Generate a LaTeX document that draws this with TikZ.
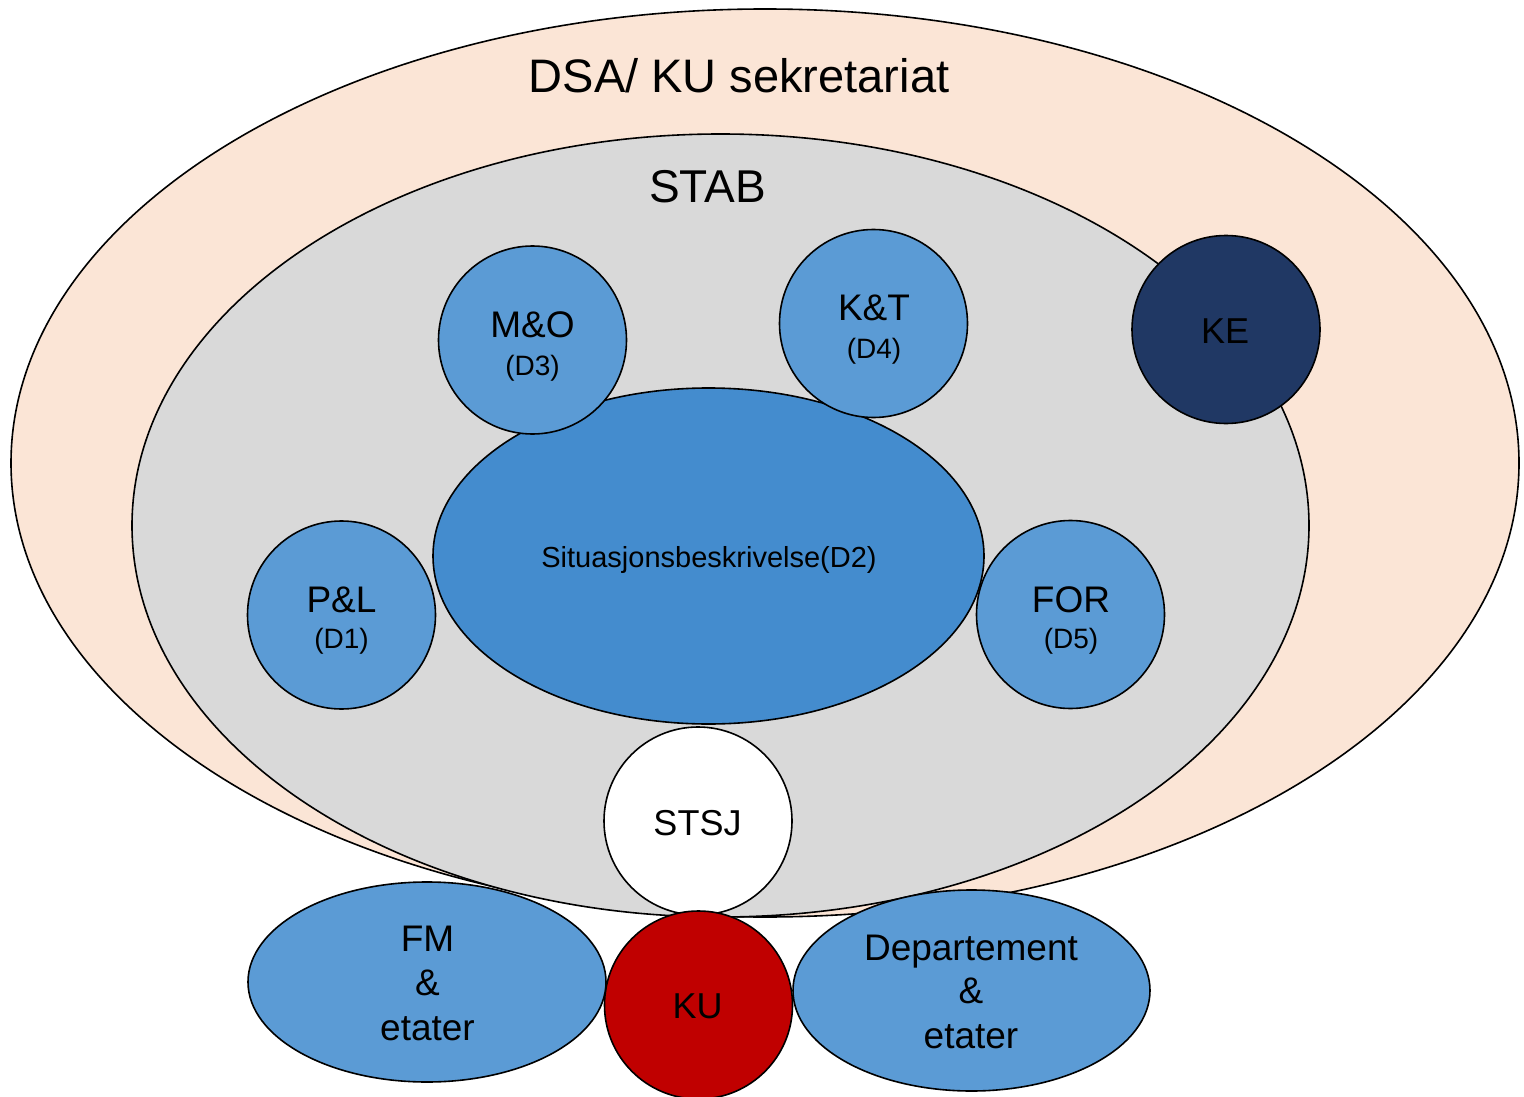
\documentclass[tikz,border=0pt]{standalone}
\usepackage{fontspec}
\setmainfont{Liberation Sans}
\usetikzlibrary{shapes.geometric}
\definecolor{peach}{HTML}{FBE5D6}
\definecolor{stabgray}{HTML}{D9D9D9}
\definecolor{circblue}{HTML}{5B9BD5}
\definecolor{sitblue}{HTML}{448CCE}
\definecolor{kenavy}{HTML}{203864}
\definecolor{kured}{HTML}{C00000}
\newcommand\fsz[1]{\fontsize{#1}{#1}\selectfont}
\begin{document}
\begin{tikzpicture}[x=1pt,y=-1pt,
  blob/.style={draw=black, line width=1.6pt, inner sep=0pt, outer sep=0pt},
  disc/.style={blob, circle, minimum size=188pt, fill=circblue},
  oval/.style={blob, ellipse},
  txt/.style={anchor=base, inner sep=0pt, text=black},
]
\useasboundingbox (0,0) rectangle (1524,1097);
% containers
\node[oval, fill=peach, minimum width=1508pt, minimum height=908pt] (dsa) at (765,463) {};
\node[oval, fill=stabgray, minimum width=1177pt, minimum height=783pt] (stab) at (720.5,525.5) {};
\node[oval, fill=sitblue, minimum width=551pt, minimum height=336pt] (sit) at (708.5,556) {};
% circles
\node[disc] (mo) at (532.5,340) {};
\node[disc] (kt) at (873.5,323.5) {};
\node[disc] (pl) at (341.5,615) {};
\node[disc] (for) at (1070.5,614.5) {};
\node[disc, fill=kenavy] (ke) at (1226,329.5) {};
\node[disc, fill=white] (stsj) at (698,821) {};
\node[disc, fill=kured] (ku) at (698.5,1005) {};
\node[oval, fill=circblue, minimum width=358pt, minimum height=200pt] (fm) at (427,982) {};
\node[oval, fill=circblue, minimum width=357pt, minimum height=201pt] (dep) at (971.5,990.5) {};
% texts
\node[txt, font=\fsz{47}] (tdsa) at (739,93) {DSA/ KU sekretariat};
\node[txt, font=\fsz{46}] (tstab) at (707.5,202) {STAB};
\node[txt, font=\fsz{29}] (tsit) at (709,567) {Situasjonsbeskrivelse(D2)};
\node[txt, font=\fsz{37}] (tmo) at (532.5,337) {M\&O};
\node[txt, font=\fsz{28}] (tmo2) at (532.5,375) {(D3)};
\node[txt, font=\fsz{37}] (tkt) at (874,320) {K\&T};
\node[txt, font=\fsz{28}] (tkt2) at (874,358) {(D4)};
\node[txt, font=\fsz{37}] (tpl) at (341.5,612) {P\&L};
\node[txt, font=\fsz{28}] (tpl2) at (341.5,648) {(D1)};
\node[txt, font=\fsz{37}] (tfor) at (1071,612) {FOR};
\node[txt, font=\fsz{28}] (tfor2) at (1071,648) {(D5)};
\node[txt, font=\fsz{36}] (tke) at (1225,343) {KE};
\node[txt, font=\fsz{36}] (tstsj) at (697.5,835) {STSJ};
\node[txt, font=\fsz{36}] (tku) at (697.5,1018) {KU};
\node[txt, font=\fsz{37}] (tfm1) at (427.5,951) {FM};
\node[txt, font=\fsz{37}] (tfm2) at (427.5,995) {\&};
\node[txt, font=\fsz{37}] (tfm3) at (427.5,1040) {etater};
\node[txt, font=\fsz{37}] (tdep1) at (971,960) {Departement};
\node[txt, font=\fsz{37}] (tdep2) at (971,1003) {\&};
\node[txt, font=\fsz{37}] (tdep3) at (971,1048) {etater};
\end{tikzpicture}
\end{document}
